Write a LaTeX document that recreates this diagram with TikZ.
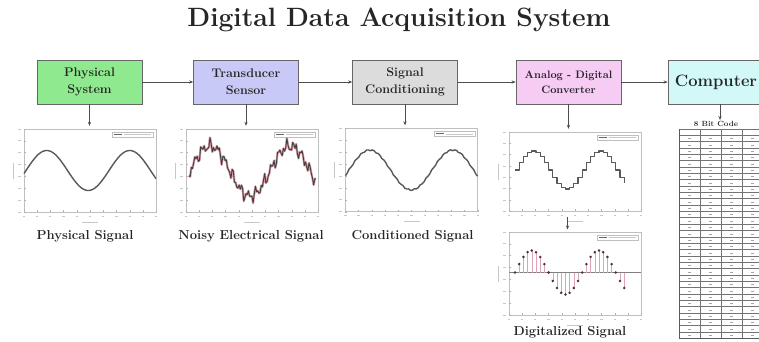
\documentclass[tikz,border=0pt]{standalone}
\usetikzlibrary{arrows.meta,calc}
\definecolor{cphys}{HTML}{8FEA8F}
\definecolor{ctrans}{HTML}{C9C9F7}
\definecolor{csig}{HTML}{DCDCDC}
\definecolor{cadc}{HTML}{F6CBF4}
\definecolor{ccomp}{HTML}{D2F8F8}
\definecolor{cnoise}{HTML}{C04A5E}
\definecolor{cstem}{HTML}{DCA4B4}
\definecolor{cdot}{HTML}{4A3034}
\newcommand\axdeco[1]{%
  \foreach \i in {0,...,10}{%
    \draw[tck] ($(#1.south west)!\i/10!(#1.south east)$) coordinate (tt) -- ++(0,-2);
    \draw[tlab] ($(tt)+(-1.2,4)$) -- ++(2.4,0);}
  \foreach \i in {0,...,7}{%
    \draw[tck] ($(#1.south west)!\i/7!(#1.north west)$) coordinate (tt) -- ++(2,0);
    \draw[tlab] ($(tt)+(-6,0)$) -- ++(3,0);}
  \draw[tlab] ($(#1.south)+(-8,10)$) -- ++(16,0);
  \draw[tlab] ($(#1.west)+(-11,-8)$) -- ++(0,16);
  \draw[draw=black!25,line width=0.3pt,fill=white] ($(#1.north east)+(-44,3)$) rectangle ++(41,5);
  \draw[line width=0.9pt,black!60] ($(#1.north east)+(-42,5.5)$) -- ++(8,0);
  \draw[tlab] ($(#1.north east)+(-32,5.5)$) -- ++(27,0);
}
\begin{document}
\begin{tikzpicture}[x=1pt,y=-1pt,
  blk/.style={draw=black!60, line width=0.7pt, minimum width=105pt, minimum height=44pt,
    inner sep=0pt, align=center, text=black!85, font=\fontsize{12.5}{17}\selectfont\bfseries},
  arr/.style={-{Stealth[length=4pt,width=3.2pt]}, line width=0.7pt, draw=black!70},
  frm/.style={draw=black!25, line width=0.4pt, minimum width=132pt, minimum height=83pt, inner sep=0pt},
  lbl/.style={font=\fontsize{13}{15}\selectfont\bfseries, text=black!85, inner sep=0pt},
  curve/.style={line width=1.4pt, draw=black!65, line join=round},
  tck/.style={line width=0.3pt, draw=black!30},
  tlab/.style={line width=0.6pt, draw=black!22},
  tline/.style={line width=0.85pt, draw=black!55},
]
\useasboundingbox (0,0) rectangle (759,342);
\clip (0,0) rectangle (759,342);
\fill[white] (0,0) rectangle (759,342);

% title
\node[font=\fontsize{26.5}{30}\selectfont\bfseries, text=black!85] (title) at (399,20) {Digital Data Acquisition System};

% blocks
\node[blk, fill=cphys] (phys) at (89.5,82) {Physical\\System};
\node[blk, fill=ctrans] (trans) at (246,82) {Transducer\\Sensor};
\node[blk, fill=csig] (sig) at (405,82) {Signal\\Conditioning};
\node[blk, fill=cadc, font=\fontsize{10.8}{15}\selectfont\bfseries] (adc) at (568.5,82) {Analog - Digital\\Converter};
\node[blk, fill=ccomp, minimum width=96pt, font=\fontsize{16.5}{18}\selectfont\bfseries] (comp) at (716,82) {Computer};

\draw[arr] (phys.east) -- (trans.west);
\draw[arr] (trans.east) -- (sig.west);
\draw[arr] (sig.east) -- (adc.west);
\draw[arr] (adc.east) -- (comp.west);

% plot frames
\node[frm] (f1) at (90,170.5) {};
\node[frm] (f2) at (252,170.5) {};
\node[frm] (f3) at (411.5,170) {};
\node[frm, minimum height=79pt] (f4) at (575,171.5) {};
\node[frm] (f5) at (575,273.5) {};
\axdeco{f1}
\axdeco{f2}
\axdeco{f3}
\axdeco{f4}
\axdeco{f5}

% down arrows
\draw[arr] (phys.south) -- ($(phys.south |- f1.north)+(0,-3)$);
\draw[arr] (trans.south) -- ($(trans.south |- f2.north)+(0,-3)$);
\draw[arr] (sig.south) -- ($(sig.south |- f3.north)+(0,-3)$);
\draw[arr] (adc.south) -- ($(adc.south |- f4.north)+(0,-3)$);
\coordinate (a2s) at (567.5,217);
\coordinate (a2e) at (567.5,229.5);
\draw[arr] (a2s) -- (a2e);

% plot 1: physical signal
\draw[curve] plot[domain=24:156, samples=140, smooth] (\x, {170.5 - 20*sin(4.337*(\x-26))});

% plot 2: noisy signal
\draw[line width=2.3pt, draw=cnoise, opacity=0.55, line join=round] plot[domain=0:127, samples=110]
  ({189+\x}, {171 - 25*sin(4.5*(\x-1)) + 4*sin(\x*47) + 3*sin(\x*113+20) + 2.2*sin(\x*79+50)});
\draw[line width=0.9pt, draw=black!75, line join=round] plot[domain=0:127, samples=110]
  ({189+\x}, {171 - 25*sin(4.5*(\x-1)) + 4*sin(\x*47) + 3*sin(\x*113+20) + 2.2*sin(\x*79+50)});

% plot 3: conditioned signal
\draw[curve] plot[domain=0.5:132.5, samples=70, smooth]
  ({345+\x}, {170 - 20*sin(4.337*(\x-4)) + 0.7*sin(\x*61)});

% plot 4: staircase
\draw[curve, line width=1.2pt] plot[const plot, domain=0:26, samples=27]
  ({515+4.2*\x}, {170 - 19*sin(22.5*\x)});

% plot 5: stems
\draw[line width=0.4pt, draw=black!50] (f5.west |- 0,272.5) -- (f5.east |- 0,272.5);
\foreach \n in {0,...,26}{
  \draw[line width=0.5pt, draw=cstem] ({515+4.2*\n},272.5) -- ({515+4.2*\n},{272.5-22*sin(22.5*\n)});
}
\foreach \n in {0,...,26}{
  \fill[cdot] ({515+4.2*\n},{272.5-22*sin(22.5*\n)}) circle (1.4pt);
}

% labels
\node[lbl] (l1) at (85,236) {Physical Signal};
\node[lbl] (l2) at (251,236) {Noisy Electrical Signal};
\node[lbl] (l3) at (412.5,236) {Conditioned Signal};
\node[lbl] (l5) at (570,332) {Digitalized Signal};

% table
\node[font=\fontsize{7.5}{9}\selectfont\bfseries, text=black!80, inner sep=0pt] (code) at (716,124) {8 Bit Code};
\coordinate (tabtop) at (720,120);
\draw[arr] (tabtop |- comp.south) -- (tabtop);
\foreach \r in {0,...,33} \draw[tline] (679,{129+\r*6.35}) -- (765,{129+\r*6.35});
\foreach \c in {679,700,721,742} \draw[tline] (\c,129) -- (\c,338.55);
\draw[line width=1pt, draw=black!65] (679,129) -- (679,338.55) -- (765,338.55);
\foreach \r in {1,...,32}
  \foreach \c in {689.5,710.5,731.5,752.5}
    \draw[tlab, draw=black!35] ({\c-1.6},{129+\r*6.35+3.2}) -- ++(3.2,0);
\end{tikzpicture}
\end{document}
